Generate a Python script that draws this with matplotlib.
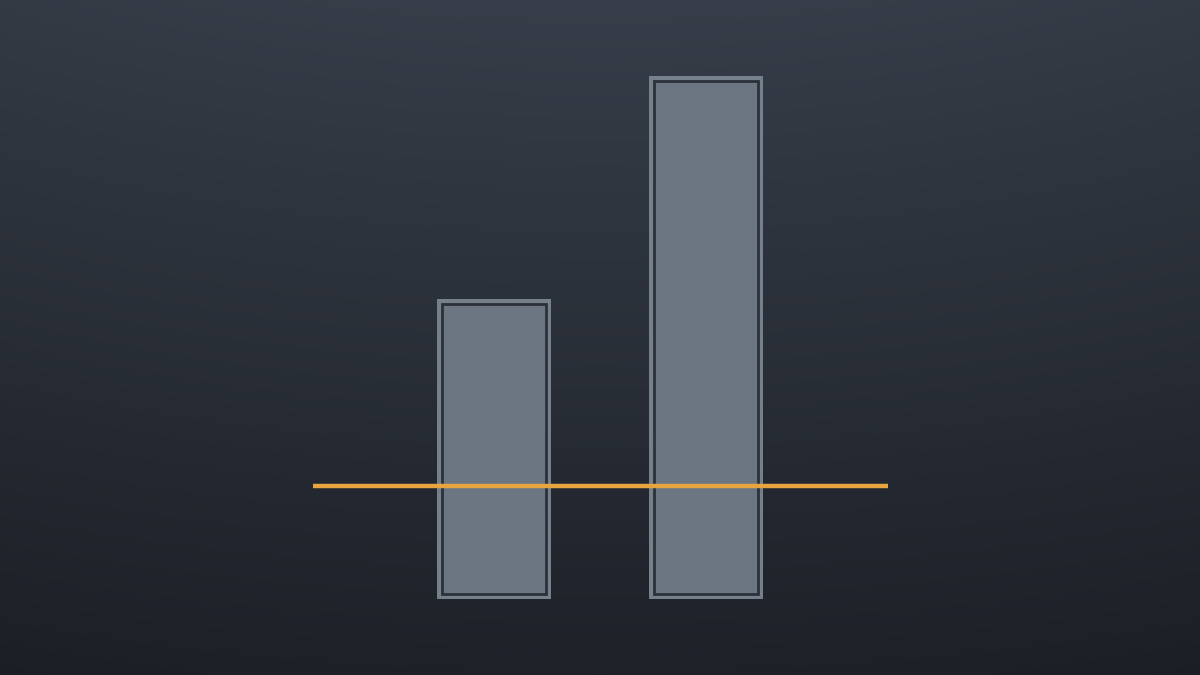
import matplotlib
matplotlib.use("Agg")
import matplotlib.pyplot as plt
import numpy as np

# data
categories = ["A", "B"]
values = [57.4, 100.0]
target = 21.6

# layout in data units
y_lo, y_hi = -14.5, 114.6
x_lo, x_hi = -2.33, 3.33
bar_width = 0.535

fig = plt.figure(figsize=(12, 6.75), dpi=100)
ax = fig.add_axes([0, 0, 1, 1])
ax.set_xlim(x_lo, x_hi)
ax.set_ylim(y_lo, y_hi)
ax.axis("off")

# vertical gradient background, a little darker towards the sides
top = np.array([0x37, 0x3e, 0x49]) / 255
bottom = np.array([0x1d, 0x21, 0x28]) / 255
t = np.linspace(0, 1, 256)[:, None, None]
s = np.linspace(-1, 1, 400)[None, :, None]
grad = top * (1 - t) + bottom * t
grad = grad * (1 - 0.06 * s ** 2)
ax.imshow(
    grad,
    extent=[x_lo, x_hi, y_lo, y_hi],
    aspect="auto",
    zorder=0,
)

# pixel size in data units (for the inset border)
px_x = (x_hi - x_lo) / 1200
px_y = (y_hi - y_lo) / 675
inset = 5

x = np.arange(len(categories))

# outer light frame
ax.bar(
    x,
    values,
    width=bar_width,
    color="#76808b",
    zorder=2,
)

# inner fill with dark keyline
ax.bar(
    x,
    [v - 2 * inset * px_y for v in values],
    bottom=inset * px_y,
    width=bar_width - 2 * inset * px_x,
    color="#6b7682",
    edgecolor="#2a313b",
    linewidth=2.0,
    zorder=3,
)

# target line
ax.axhline(
    target,
    xmin=313 / 1200,
    xmax=888 / 1200,
    color="#e8a43e",
    linewidth=3.2,
    solid_capstyle="butt",
    zorder=4,
)

fig.savefig("out.png", dpi=100)
plt.close(fig)
